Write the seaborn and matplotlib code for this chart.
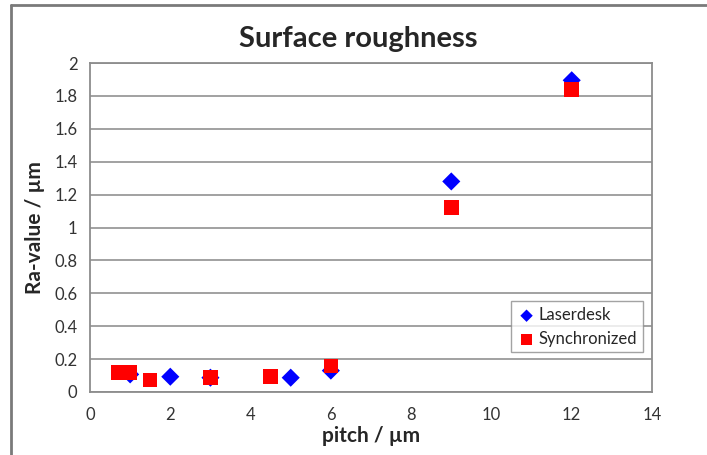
import matplotlib
matplotlib.use("Agg")
import matplotlib.pyplot as plt
import seaborn as sns
import pandas as pd
from matplotlib.lines import Line2D

# values
laser_pitch = [1, 2, 3, 5, 6, 9, 12]
laser_ra = [0.107, 0.093, 0.087, 0.087, 0.13, 1.28, 1.895]

sync_pitch = [0.7, 1, 1.5, 3, 4.5, 6, 9, 12]
sync_ra = [0.117, 0.117, 0.072, 0.087, 0.093, 0.157, 1.12, 1.84]

laser = pd.DataFrame({"pitch": laser_pitch, "ra": laser_ra})
sync = pd.DataFrame({"pitch": sync_pitch, "ra": sync_ra})

sns.set_style("white")
plt.rcParams['font.family'] = ['Lato', 'DejaVu Sans']

fig = plt.figure(figsize=(7.07, 4.55), dpi=100)
ax = fig.add_axes([90 / 707, 63 / 455, 562 / 707, 329 / 455])

sns.scatterplot(data=laser, x="pitch", y="ra", marker="D", s=85, color="#0000FF",
                edgecolor="none", label="Laserdesk", ax=ax, zorder=3)
sns.scatterplot(data=sync, x="pitch", y="ra", marker="s", s=110, color="#FF0000",
                edgecolor="none", label="Synchronized", ax=ax, zorder=4)

ax.set_xlim(0, 14)
ax.set_ylim(0, 2)
ax.set_xticks(range(0, 15, 2))
ax.set_yticks([i / 5 for i in range(11)])
ax.yaxis.set_major_formatter(plt.FuncFormatter(lambda v, _: f'{v:g}'))
ax.yaxis.grid(True, color="#9a9a9a", linewidth=1.3)
ax.set_axisbelow(True)

for s in ax.spines.values():
    s.set_color("#8c8c8c")
    s.set_linewidth(1.3)
ax.tick_params(axis="both", direction="out", length=5, width=1.2, color="#8c8c8c",
               labelsize=12, labelcolor="#333333", pad=4)
ax.tick_params(axis="x", pad=6)

ax.set_xlabel("pitch / µm", fontsize=15, fontweight="bold", labelpad=2)
ax.set_ylabel("Ra-value / µm", fontsize=15, fontweight="bold", labelpad=7)
fig.text(0.507, 0.915, "Surface roughness", ha="center", va="center",
         fontsize=21, fontweight="bold")

leg = ax.legend(loc="lower right", bbox_to_anchor=(0.998, 0.095), fontsize=12,
                frameon=True, fancybox=False, edgecolor="#8c8c8c",
                handletextpad=0.1, borderpad=0.35, labelspacing=0.45, handlelength=1.2)
leg.get_frame().set_linewidth(1.0)
leg.legend_handles[0].set_sizes([40])
leg.legend_handles[1].set_sizes([60])

# outer chart frame
fig.add_artist(Line2D([11 / 707, 11 / 707], [0, 1 - 5 / 455], color="#7a7a7a", linewidth=2))
fig.add_artist(Line2D([11 / 707, 1], [1 - 5 / 455, 1 - 5 / 455], color="#7a7a7a", linewidth=2))

fig.savefig("out.png", dpi=100)
